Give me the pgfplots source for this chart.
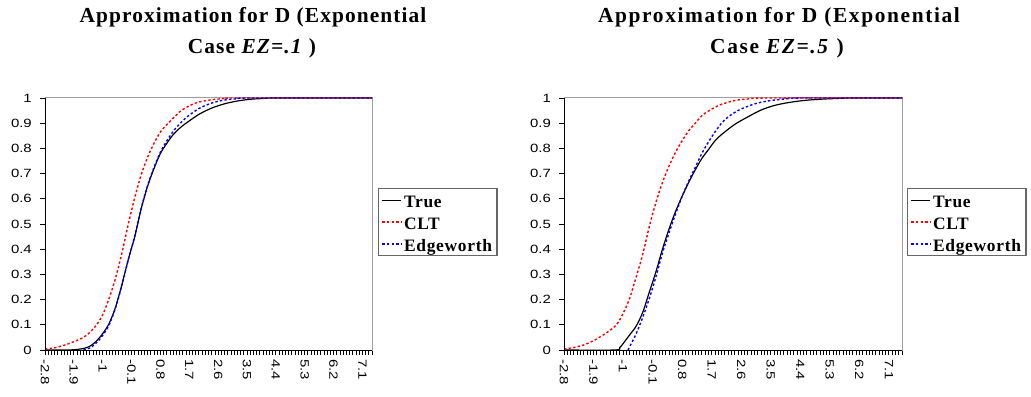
\documentclass[border=0pt]{standalone}
\usepackage{fontspec}
\setmainfont{Liberation Serif}
\newfontfamily\arialf[FakeStretch=1.25]{Liberation Sans}
\newfontfamily\titlef[LetterSpace=5]{Liberation Serif}
\newfontfamily\titleg[LetterSpace=7.5]{Liberation Serif}
\newfontfamily\legf[LetterSpace=4]{Liberation Serif}
\newcommand{\legfont}{\legf\bfseries\fontsize{17.5}{17.5}\selectfont\rule[-10.5bp]{0pt}{26bp}}
\usepackage{pgfplots}
\pgfplotsset{compat=1.18}
\pgfplotsset{myax/.style={
  scale only axis, height=252bp,
  xmin=-2.8, ymin=0, ymax=1,
  axis line style={draw=gray!75, line width=1bp},
  xtick={-2.8,-1.9,-1,-0.1,0.8,1.7,2.6,3.5,4.4,5.3,6.2,7.1},
  xticklabels={-2.8,-1.9,-1,-0.1,0.8,1.7,2.6,3.5,4.4,5.3,6.2,7.1},
  minor xtick={-2.7,-2.6,...,7.45},
  ytick={0,0.1,0.2,0.3,0.4,0.5,0.6,0.7,0.8,0.9,1},
  yticklabels={0,0.1,0.2,0.3,0.4,0.5,0.6,0.7,0.8,0.9,1},
  tick align=outside, xtick pos=bottom, ytick pos=left,
  major tick length=5bp, minor tick length=5bp,
  every tick/.style={black, line width=0.8bp},
  every minor tick/.style={black, line width=0.8bp},
  /pgf/number format/assume math mode=true,
  x tick label style={rotate=-90, anchor=west, inner sep=4bp, font=\arialf\fontsize{12}{12}\selectfont},
  y tick label style={inner sep=0bp, xshift=-8bp, font=\arialf\fontsize{12}{12}\selectfont},
  legend style={anchor=north west, draw=gray!80!black, line width=1.3bp,
    inner xsep=3bp, inner ysep=1bp, row sep=1bp, cells={anchor=west}},
  legend image code/.code={\draw[#1] (0bp,0bp) -- (19bp,0bp);},
  legend cell align=left,
  truestyle/.style={black, line width=1.2bp, smooth},
  cltstyle/.style={color=red, line width=1.4bp, dash pattern=on 2.4bp off 2.2bp, smooth},
  edgestyle/.style={color=blue, line width=1.4bp, dash pattern=on 2.4bp off 2.2bp, smooth},
}}
\begin{document}
\begin{tikzpicture}[x=1bp,y=1bp]
\fill[white] (0,0) rectangle (1031,396);
\useasboundingbox (0,0) rectangle (1031,396);
\node[anchor=base, font=\titlef\bfseries\fontsize{21.5}{21.5}\selectfont] at (253,374) {Approximation for D (Exponential};
\node[anchor=base, font=\titlef\bfseries\fontsize{21.5}{21.5}\selectfont] at (252,343) {Case \textit{EZ=.1} )};
\node[anchor=base, font=\titleg\bfseries\fontsize{21.5}{21.5}\selectfont] at (779,374) {Approximation for D (Exponential};
\node[anchor=base, font=\titleg\bfseries\fontsize{21.5}{21.5}\selectfont] at (777,343) {Case \textit{EZ=.5} )};
\begin{axis}[myax, at={(45bp,46bp)}, anchor=south west, width=327bp, xmax=7.4,
  legend style={at={(1,0.643)}, xshift=6bp}]
\addplot[truestyle] coordinates {(-2.8,0) (-2.2,0) (-1.9,0.001) (-1.6,0.006) (-1.4,0.015) (-1.2,0.035) (-1.0,0.065) (-0.8,0.105) (-0.6,0.17) (-0.4,0.26) (-0.2,0.36) (0.0,0.45) (0.2,0.56) (0.4,0.65) (0.6,0.72) (0.8,0.78) (1.0,0.82) (1.2,0.855) (1.4,0.88) (1.6,0.90) (2.0,0.935) (2.4,0.96) (2.8,0.977) (3.2,0.988) (3.6,0.995) (4.0,0.998) (4.5,1) (7.4,1)};
\addlegendentry{\legfont True}
\addplot[cltstyle] coordinates {(-2.8,0.004) (-2.5,0.009) (-2.2,0.019) (-1.9,0.033) (-1.6,0.05) (-1.4,0.07) (-1.2,0.098) (-1.0,0.14) (-0.8,0.205) (-0.6,0.285) (-0.4,0.385) (-0.2,0.50) (0.0,0.605) (0.2,0.695) (0.4,0.765) (0.6,0.82) (0.8,0.865) (1.0,0.895) (1.2,0.92) (1.4,0.945) (1.6,0.962) (1.8,0.975) (2.0,0.984) (2.4,0.993) (2.8,0.998) (3.2,1) (7.4,1)};
\addlegendentry{\legfont CLT}
\addplot[edgestyle] coordinates {(-1.6,0) (-1.4,0.008) (-1.2,0.028) (-1.0,0.058) (-0.8,0.10) (-0.6,0.167) (-0.4,0.258) (-0.2,0.36) (0.0,0.452) (0.2,0.562) (0.4,0.652) (0.6,0.725) (0.8,0.785) (1.0,0.83) (1.2,0.868) (1.4,0.897) (1.6,0.922) (2.0,0.958) (2.4,0.98) (2.8,0.992) (3.2,0.997) (3.6,1) (7.4,1)};
\addlegendentry{\legfont Edgeworth}
\draw[black, line width=1bp] (rel axis cs:0,1) -- (rel axis cs:0,0) -- (rel axis cs:1,0);
\end{axis}
\begin{axis}[myax, at={(564bp,46bp)}, anchor=south west, width=338bp, xmax=7.5,
  legend style={at={(1,0.643)}, xshift=5bp}]
\addplot[truestyle] coordinates {(-2.8,0) (-1.25,0) (-1.1,0.01) (-1.0,0.025) (-0.8,0.06) (-0.6,0.095) (-0.4,0.15) (-0.2,0.23) (0.0,0.31) (0.2,0.40) (0.4,0.48) (0.6,0.55) (0.8,0.61) (1.0,0.665) (1.2,0.715) (1.4,0.76) (1.6,0.795) (1.8,0.83) (2.0,0.855) (2.4,0.895) (2.8,0.925) (3.2,0.952) (3.6,0.97) (4.0,0.981) (4.5,0.99) (5.0,0.995) (5.5,0.998) (6.0,1) (7.5,1)};
\addlegendentry{\legfont True}
\addplot[cltstyle] coordinates {(-2.8,0.004) (-2.5,0.01) (-2.2,0.02) (-1.9,0.037) (-1.6,0.06) (-1.4,0.078) (-1.2,0.10) (-1.0,0.145) (-0.8,0.205) (-0.6,0.29) (-0.4,0.38) (-0.2,0.49) (0.0,0.585) (0.2,0.665) (0.4,0.73) (0.6,0.785) (0.8,0.83) (1.0,0.87) (1.2,0.90) (1.4,0.93) (1.6,0.948) (1.8,0.963) (2.0,0.975) (2.4,0.99) (2.8,0.996) (3.4,1) (7.5,1)};
\addlegendentry{\legfont CLT}
\addplot[edgestyle] coordinates {(-0.85,0) (-0.6,0.065) (-0.4,0.13) (-0.2,0.205) (0.0,0.29) (0.2,0.385) (0.4,0.465) (0.6,0.54) (0.8,0.61) (1.0,0.67) (1.2,0.725) (1.4,0.78) (1.6,0.825) (1.8,0.865) (2.0,0.90) (2.2,0.925) (2.5,0.95) (2.8,0.967) (3.1,0.98) (3.5,0.99) (4.0,0.997) (4.5,1) (7.5,1)};
\addlegendentry{\legfont Edgeworth}
\draw[black, line width=1bp] (rel axis cs:0,1) -- (rel axis cs:0,0) -- (rel axis cs:1,0);
\end{axis}
\end{tikzpicture}
\end{document}
